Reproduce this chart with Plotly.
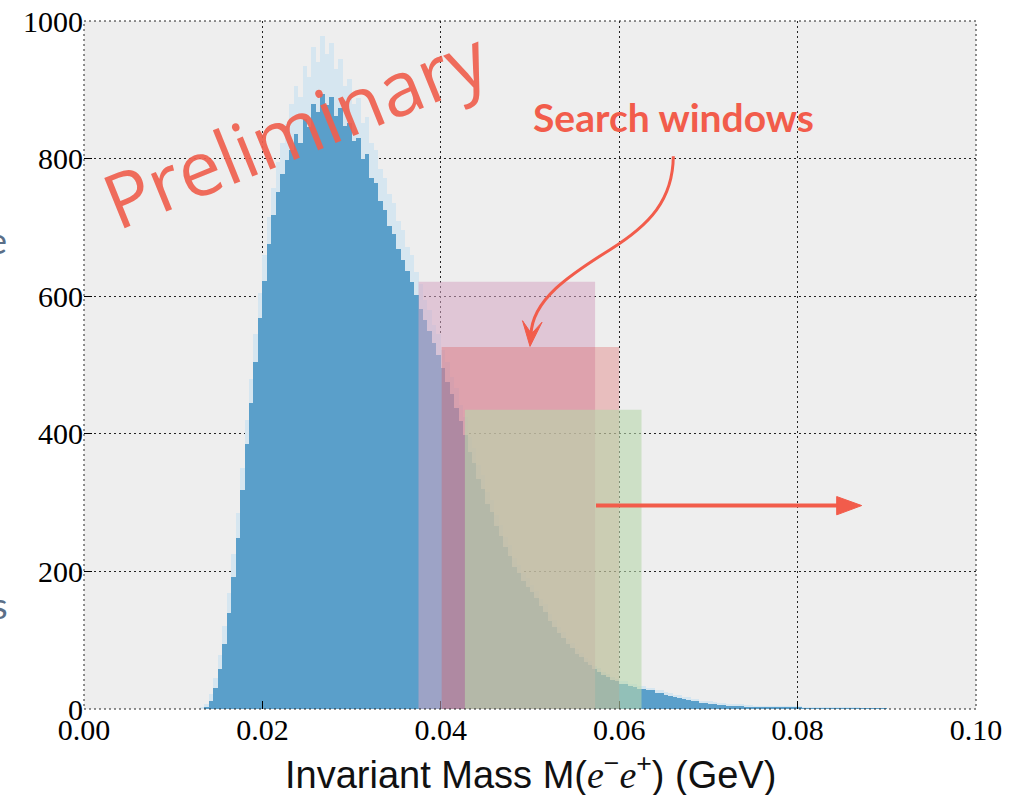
import plotly.graph_objects as go

# ---------------- data ----------------
bin_width = 0.0005
bin_start = 0.0130
# dark (main) histogram counts, one value per 0.0005 GeV bin starting at 0.0130
counts_main = [
    0, 3, 12, 30, 58, 95, 140, 192, 248, 318,
    385, 445, 505, 568, 622, 676, 718, 752, 778, 798,
    812, 836, 822, 858, 846, 880, 868, 894, 878, 890,
    862, 874, 848, 852, 826, 830, 800, 806, 772, 764,
    738, 726, 702, 690, 668, 652, 636, 620, 602, 582,
    566, 550, 532, 514, 496, 476, 458, 438, 418, 398,
    374, 358, 334, 320, 298, 286, 266, 252, 236, 222,
    206, 198, 186, 178, 170, 162, 150, 141, 128, 119,
    110, 103, 95, 88, 80, 75, 68, 64, 58, 54,
    49, 47, 42, 40, 37, 36, 33, 32, 29, 29,
    27, 27, 23, 23, 20, 19, 17, 16, 14, 13,
    11, 11, 9, 9, 8, 7, 6, 6, 5, 5,
    4, 4, 3, 3, 3, 2, 2, 2, 2, 2,
    2, 2, 2, 3, 2, 1, 1, 1, 1, 1,
    1, 1, 1, 1, 1, 1, 1, 1, 1, 1,
    1, 1, 1, 1,
]
# light fluctuation envelope (upper spread of the fine-binned histogram)
counts_upper = [
    2, 8, 22, 45, 78, 120, 168, 225, 285, 350,
    420, 480, 545, 605, 660, 715, 758, 795, 822, 850,
    880, 905, 890, 935, 918, 962, 940, 978, 952, 968,
    930, 945, 905, 915, 880, 888, 852, 860, 822, 812,
    785, 772, 748, 735, 710, 696, 672, 660, 635, 618,
    595, 580, 558, 545, 522, 505, 482, 466, 442, 424,
    395, 380, 354, 340, 316, 304, 282, 268, 250, 238,
    220, 210, 198, 190, 180, 172, 160, 152, 138, 130,
    119, 112, 102, 96, 87, 82, 74, 70, 63, 60,
    54, 51, 46, 44, 41, 40, 37, 36, 33, 33,
    31, 31, 27, 27, 24, 23, 21, 20, 18, 17,
    15, 14, 12, 12, 11, 10, 9, 9, 8, 8,
    7, 7, 6, 6, 5, 5, 5, 4, 4, 4,
    4, 4, 4, 5, 4, 3, 3, 3, 2, 2,
    2, 2, 2, 2, 2, 2, 2, 2, 1, 1,
    1, 1, 1, 1,
]
bin_centers = [round(bin_start + bin_width * (i + 0.5), 5) for i in range(len(counts_main))]

# search windows: (low, high, height)
windows_low = [0.0375, 0.0401, 0.0427]
windows_high = [0.0573, 0.0600, 0.0625]
windows_top = [621, 526, 435]
windows_fill = ["rgba(213,165,194,0.55)", "rgba(218,81,81,0.30)", "rgba(183,215,171,0.60)"]

x_ticks = [0.00, 0.02, 0.04, 0.06, 0.08, 0.10]
y_ticks = [0, 200, 400, 600, 800, 1000]

RED = "#f25c4b"

fig = go.Figure()
fig.add_trace(go.Bar(x=bin_centers, y=counts_upper, width=bin_width,
                     marker=dict(color="#d6e6f0", line=dict(width=0)),
                     showlegend=False, hoverinfo="skip"))
fig.add_trace(go.Bar(x=bin_centers, y=counts_main, width=bin_width,
                     marker=dict(color="#5a9fca", line=dict(width=0)),
                     showlegend=False))

shapes = []
for lo, hi, top, col in zip(windows_low, windows_high, windows_top, windows_fill):
    shapes.append(dict(type="rect", xref="x", yref="y", x0=lo, x1=hi, y0=0, y1=top,
                       fillcolor=col, line=dict(width=0), layer="above"))

# dotted frame of the axes
shapes.append(dict(type="rect", xref="paper", yref="paper", x0=0, x1=1, y0=0, y1=1,
                   line=dict(color="#222222", width=1, dash="2px,3px"), layer="above"))

# curved arrow
shapes.append(dict(type="path", xref="x", yref="y", layer="above",
                   path="M 0.066065 803.3 C 0.06603 740.4, 0.063453 704.0, 0.058969 667.6 "
                        "C 0.054484 631.3, 0.050224 594.9, 0.050112 544.0",
                   line=dict(color=RED, width=3)))
shapes.append(dict(type="path", xref="x", yref="y", layer="above",
                   path="M 0.05 527 L 0.049159 564.4 L 0.050168 545.5 L 0.051345 562.2 Z",
                   fillcolor=RED, line=dict(color=RED, width=1)))
# straight arrow
shapes.append(dict(type="line", xref="x", yref="y", layer="above",
                   x0=0.057399, y0=295.7, x1=0.0848, y1=295.7,
                   line=dict(color=RED, width=4)))
shapes.append(dict(type="path", xref="x", yref="y", layer="above",
                   path="M 0.087186 295.7 L 0.084383 308.8 L 0.084383 282.2 Z",
                   fillcolor=RED, line=dict(color=RED, width=1)))

annotations = [
    dict(text="<b>Search windows</b>", x=0.06609, y=861, xref="x", yref="y",
         showarrow=False, font=dict(family="Lato", size=39, color=RED),
         xanchor="center", yanchor="middle"),
    dict(text="Preliminary", x=0.0237, y=845, xref="x", yref="y",
         showarrow=False, textangle=-22,
         font=dict(family="Open Sans", size=76, color="#f0604f"),
         xanchor="center", yanchor="middle", opacity=0.92),
    dict(text="Invariant Mass M(<i><span style='font-family:Liberation Serif'>e</span></i><sup>−</sup>"
              "<i><span style='font-family:Liberation Serif'>e</span></i><sup>+</sup>) (GeV)",
         x=0.5, y=-0.092, xref="paper", yref="paper", showarrow=False,
         font=dict(family="Liberation Sans", size=38, color="#111111"),
         xanchor="center", yanchor="middle"),
    dict(text="e", x=-0.0841, y=0.682, xref="paper", yref="paper", showarrow=False,
         font=dict(family="Lato", size=36, color="#5b6f88"), xanchor="right", yanchor="middle"),
    dict(text="s", x=-0.0830, y=0.151, xref="paper", yref="paper", showarrow=False,
         font=dict(family="Lato", size=36, color="#5b6f88"), xanchor="right", yanchor="middle"),
]

axis_common = dict(
    showgrid=True, gridcolor="#222222", gridwidth=1, griddash="2px,3px",
    zeroline=False, showline=False, automargin=False,
    ticks="inside", ticklen=8, tickwidth=1, tickcolor="#000000",
    tickfont=dict(family="Liberation Serif", size=30, color="#000000"),
)

fig.update_layout(
    width=1011, height=795,
    margin=dict(l=84, r=35, t=21, b=86, autoexpand=False),
    paper_bgcolor="#ffffff", plot_bgcolor="#eeeeee",
    barmode="overlay", bargap=0,
    shapes=shapes, annotations=annotations,
    xaxis=dict(range=[0, 0.1], tickvals=x_ticks, ticktext=[f"{v:.2f}" for v in x_ticks],
               **axis_common),
    yaxis=dict(range=[0, 1000], tickvals=y_ticks, ticktext=[str(v) for v in y_ticks],
               **axis_common),
)

fig.write_html("out.html", config={"displayModeBar": False},
               post_script="document.body.style.margin='0px';document.body.style.overflow='hidden';")
